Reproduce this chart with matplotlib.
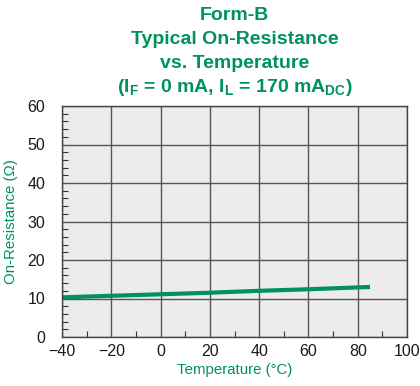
import numpy as np
import matplotlib as mpl
mpl.use('Agg')
from matplotlib import pyplot as plt
from matplotlib.ticker import MultipleLocator

# data
temp = [-40, -20, 0, 20, 40, 60, 85]
r_on = [10.3, 10.7, 11.1, 11.5, 12.0, 12.4, 13.0]

x_ticks = [-40, -20, 0, 20, 40, 60, 80, 100]
y_ticks = [0, 10, 20, 30, 40, 50, 60]

GREEN = '#00925a'


def main():
    mpl.rcParams['font.family'] = ['Liberation Sans', 'DejaVu Sans']
    mpl.rcParams['mathtext.fontset'] = 'custom'
    mpl.rcParams['mathtext.bf'] = 'Liberation Sans:bold'
    mpl.rcParams['mathtext.rm'] = 'Liberation Sans:bold'
    mpl.rcParams['mathtext.default'] = 'bf'

    fig = plt.figure(figsize=(4.2, 3.86), dpi=100)
    ax = fig.add_axes([62/420, 1 - 337/386, 345/420, 231/386])
    ax.set_facecolor('#ececec')

    ax.plot(temp, r_on, color=GREEN, lw=3, solid_capstyle='butt')

    ax.set_xlim(-40, 100)
    ax.set_ylim(0, 60)
    ax.set_xticks(x_ticks)
    ax.set_yticks(y_ticks)
    ax.xaxis.set_minor_locator(MultipleLocator(10))
    ax.yaxis.set_minor_locator(MultipleLocator(2))
    ax.tick_params(which='major', length=0, labelsize=11.5, colors='#1a1a1a')
    ax.tick_params(axis='y', which='major', pad=12)
    ax.tick_params(axis='x', which='major', pad=5)
    ax.tick_params(which='minor', direction='in', length=4, width=0.8,
                   color='#333333', top=False, right=False)
    ax.grid(which='major', color='#555555', lw=1)
    ax.set_axisbelow(True)
    for s in ax.spines.values():
        s.set_color('#444444')
        s.set_linewidth(1)

    ax.set_xlabel('Temperature (°C)', color=GREEN, fontsize=10.8, labelpad=3)
    ax.set_ylabel('On-Resistance (Ω)', color=GREEN, fontsize=10.8, labelpad=7)

    title_kw = dict(ha='center', va='center', color=GREEN, fontsize=14,
                    fontweight='bold', transform=fig.transFigure)
    cx = 234.5 / 420
    fig.text(cx, 1 - 15/386, 'Form-B', **title_kw)
    fig.text(cx, 1 - 40/386, 'Typical On-Resistance', **title_kw)
    fig.text(cx, 1 - 63/386, 'vs. Temperature', **title_kw)
    fig.text(cx, 1 - 88/386,
             r'(I$_\mathbf{F}$ = 0 mA, I$_\mathbf{L}$ = 170 mA$_\mathbf{DC}$)',
             **title_kw)

    plt.savefig('out.png', dpi=100)


if __name__ == "__main__":
    main()
